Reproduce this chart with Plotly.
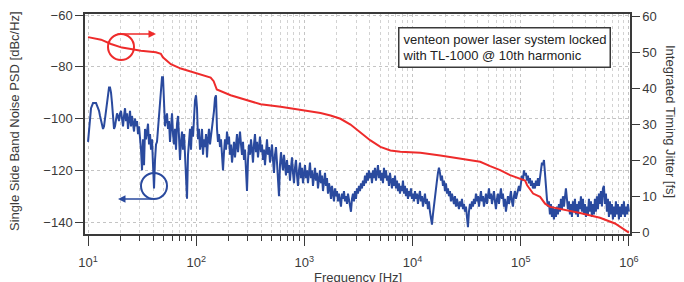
import numpy as np
import plotly.graph_objects as go

# ---------------- data ----------------
# Single side band phase noise PSD [dBc/Hz], measured on a uniform log grid 10 Hz .. 1 MHz
psd_10_100 = [
    -109, -104, -99, -96, -95, -94, -94, -94, -94, -95, -96, -97, -99, -101, -103, -104, -103, -100, -96, -92,
    -89, -88, -88, -90, -94, -100, -104, -103, -100, -98, -99, -101, -98, -97, -100, -103, -99, -96, -101, -98,
    -104, -100, -97, -103, -99, -102, -105, -100, -103, -101, -106, -103, -107, -112, -120, -108, -118, -104, -108, -105,
    -102, -110, -106, -112, -108, -118, -127, -116, -110, -109, -104, -98, -92, -86, -84, -84, -92, -103, -100, -98,
    -104, -101, -109, -103, -98, -106, -110, -104, -112, -102, -99, -107, -116, -109, -105, -112, -106, -114, -124, -131,
    -114, -108, -104, -112, -103, -107, -99, -93, -91,
]
psd_100_1k = [
    -96, -108, -104, -112, -110, -104, -114, -108, -111, -106, -115, -108, -104, -110, -107, -105, -102, -97, -92, -91,
    -104, -109, -106, -111, -108, -114, -120, -113, -108, -112, -105, -110, -107, -114, -110, -117, -112, -109, -115, -111,
    -106, -113, -108, -105, -110, -114, -109, -116, -112, -120, -128, -116, -110, -114, -108, -112, -117, -110, -106, -113,
    -109, -115, -111, -107, -113, -110, -116, -112, -118, -113, -108, -114, -111, -117, -113, -110, -116, -121, -114, -111,
    -117, -124, -130, -118, -113, -117, -120, -114, -118, -122, -116, -121, -118, -124, -119, -115, -121, -125, -119, -116,
    -122, -126, -120, -117, -123, -119, -125, -121,
]
psd_1k_10k = [
    -118, -123, -120, -125, -121, -117, -123, -120, -126, -122, -119, -124, -121, -127, -123, -120, -125, -122, -128, -124,
    -121, -126, -123, -129, -125, -127, -131, -126, -129, -132, -127, -130, -128, -132, -129, -131, -134, -129, -131, -128,
    -132, -130, -133, -129, -131, -134, -136, -131, -129, -132, -128, -131, -127, -129, -126, -128, -125, -127, -124, -126,
    -122, -125, -121, -124, -120, -123, -121, -125, -120, -123, -119, -124, -121, -118, -123, -120, -124, -121, -125, -119,
    -123, -120, -124, -122, -126, -121, -124, -127, -123, -126, -122, -127, -124, -128, -125, -129, -126, -128, -124, -129,
    -126, -130, -127, -131, -128, -130, -127, -131,
]
psd_10k_100k = [
    -129, -132, -128, -131, -129, -133, -130, -128, -132, -130, -134, -131, -129, -133, -131, -135, -132, -136, -139, -141,
    -137, -133, -130, -127, -124, -121, -119, -121, -124, -122, -126, -124, -128, -125, -129, -127, -130, -128, -132, -129,
    -131, -133, -130, -134, -131, -133, -135, -132, -134, -131, -135, -133, -136, -134, -139, -142, -136, -133, -135, -132,
    -134, -131, -133, -129, -132, -130, -134, -131, -128, -132, -130, -134, -131, -129, -133, -130, -127, -131, -129, -133,
    -130, -128, -132, -135, -131, -129, -133, -130, -127, -131, -129, -134, -131, -136, -132, -130, -133, -131, -128, -132,
    -134, -130, -128, -131, -129, -127, -126, -128,
]
psd_100k_1M = [
    -125, -122, -124, -120, -122, -121, -124, -122, -125, -123, -126, -124, -127, -125, -127, -124, -126, -123, -126, -122,
    -120, -117, -118, -116, -121, -127, -131, -134, -132, -137, -133, -138, -134, -139, -135, -138, -134, -137, -133, -136,
    -131, -135, -130, -134, -129, -127, -131, -135, -132, -137, -133, -138, -132, -136, -131, -137, -133, -138, -132, -135,
    -130, -136, -131, -137, -133, -138, -134, -137, -131, -136, -132, -138, -133, -137, -131, -136, -130, -135, -129, -133,
    -128, -134, -127, -126, -133, -129, -136, -131, -138, -132, -137, -133, -139, -134, -138, -132, -137, -133, -139, -134,
    -138, -133, -137, -132, -138, -134, -137, -133, -136,
]

# Integrated timing jitter [fs] (right axis)
jitter_freq_hz = [10, 13.2, 16.3, 20.6, 24.9, 30.8, 42.4, 47.1, 49.2, 58.3, 72.1, 89.1, 110, 136, 145, 155,
                  208, 319, 394, 603, 922, 1410, 1745, 2157, 2668, 3299, 4080, 5045, 6238, 7714,
                  11800, 18040, 27590, 42190, 52170, 64510, 79770, 98640, 109700, 114600, 130100,
                  151000, 167900, 186700, 231000, 353300, 540400, 743500, 1000000]
jitter_fs = [54.2, 53.5, 52.3, 51.3, 50.9, 50.4, 50.0, 49.6, 48.6, 46.7, 45.5, 44.6, 43.9, 43.0, 42.0, 39.7,
             38.1, 36.5, 35.6, 34.9, 34.1, 33.2, 32.5, 31.6, 30.0, 27.8, 25.6, 23.8, 22.8, 22.5,
             22.2, 21.4, 20.5, 19.7, 18.5, 17.4, 16.0, 15.1, 14.5, 13.2, 10.9,
             10.0, 8.1, 7.2, 6.7, 5.5, 4.2, 2.6, 0.1]

x_tick_vals = [1e1, 1e2, 1e3, 1e4, 1e5, 1e6]
x_tick_text = ["10<sup>1</sup>", "10<sup>2</sup>", "10<sup>3</sup>", "10<sup>4</sup>", "10<sup>5</sup>", "10<sup>6</sup>"]
left_ticks = [-140, -120, -100, -80, -60]
right_ticks = [0, 10, 20, 30, 40, 50, 60]
note_text = "venteon power laser system locked<br>with TL-1000 @ 10th harmonic"

# ---------------- figure ----------------
psd = psd_10_100 + psd_100_1k + psd_1k_10k + psd_10k_100k + psd_100k_1M
freq = np.logspace(1, 6, len(psd))

BLUE = "#2a4a9e"
RED = "#ee2b2b"
AXC = "#3a3a3a"
FONT = "Liberation Sans, Arial, sans-serif"

fig = go.Figure()
fig.add_trace(go.Scatter(x=freq, y=psd, mode="lines", line=dict(color=BLUE, width=2),
                         yaxis="y", showlegend=False))
fig.add_trace(go.Scatter(x=jitter_freq_hz, y=jitter_fs, mode="lines", line=dict(color=RED, width=2),
                         yaxis="y2", showlegend=False))

minor_vals = [m * 10 ** k for k in range(1, 6) for m in range(2, 10)]

fig.update_layout(
    width=684, height=282,
    margin=dict(l=85, r=54, t=14, b=48, autoexpand=False),
    paper_bgcolor="white", plot_bgcolor="white",
    font=dict(family=FONT, size=13, color=AXC),
    showlegend=False,
    xaxis=dict(
        type="log", range=[0.972, 6.01], automargin=False,
        tickmode="array", tickvals=x_tick_vals, ticktext=x_tick_text,
        ticks="outside", ticklen=10, tickwidth=1.3, tickcolor=AXC, ticklabelstandoff=6,
        showline=True, linecolor=AXC, linewidth=1.5, mirror=True,
        showgrid=True, gridcolor="#c4c4c4", griddash="dot", gridwidth=1,
        zeroline=False,
        minor=dict(tickmode="array", tickvals=minor_vals, ticks="outside", ticklen=5,
                   tickwidth=1.2, tickcolor=AXC, showgrid=True, gridcolor="#d2d2d2",
                   griddash="dot", gridwidth=1),
        tickfont=dict(size=13, color=AXC),
    ),
    yaxis=dict(
        range=[-144.6, -59.6], tickmode="array", tickvals=left_ticks, automargin=False,
        ticks="outside", ticklen=8, tickwidth=1.3, tickcolor=AXC,
        showline=True, linecolor=AXC, linewidth=1.5, mirror=True,
        showgrid=True, gridcolor="#c4c4c4", griddash="dot", gridwidth=1,
        zeroline=False, tickfont=dict(size=13, color=AXC),
    ),
    yaxis2=dict(
        overlaying="y", side="right", range=[-0.3, 60.6], automargin=False,
        tickmode="array", tickvals=right_ticks,
        ticks="outside", ticklen=8, tickwidth=1.3, tickcolor=AXC,
        showline=True, linecolor=AXC, linewidth=1.5,
        showgrid=False, zeroline=False, tickfont=dict(size=13, color=AXC),
    ),
)

# plot area: x 85..630 px, y 14..234 px
PW, PH = 545.0, 220.0

def px(xp):
    return (xp - 85) / PW

def py(yp):
    return (234 - yp) / PH

# axis titles
fig.add_annotation(text="Single Side Band Noise PSD [dBc/Hz]", xref="paper", yref="paper",
                   x=px(14), y=py(121), textangle=-90, showarrow=False,
                   font=dict(size=13, color=AXC), xanchor="center", yanchor="middle")
fig.add_annotation(text="Integrated Timing Jitter [fs]", xref="paper", yref="paper",
                   x=px(671), y=py(121), textangle=90, showarrow=False,
                   font=dict(size=13, color=AXC), xanchor="center", yanchor="middle")
fig.add_annotation(text="Frequency [Hz]", xref="paper", yref="paper",
                   x=px(358), y=py(277), showarrow=False,
                   font=dict(size=13, color=AXC), xanchor="center", yanchor="middle")

# note box
fig.add_annotation(text=note_text, xref="paper", yref="paper", x=px(398), y=py(27),
                   xanchor="left", yanchor="top", align="left", showarrow=False,
                   font=dict(size=13, color="#222"), bgcolor="white",
                   bordercolor=AXC, borderwidth=1.5, borderpad=3)

# circle markers with arrows pointing to the relevant axis
r = 13
for (cx, cy, col) in [(121, 47, RED), (154, 186, BLUE)]:
    fig.add_shape(type="circle", xref="paper", yref="paper",
                  x0=px(cx - r), x1=px(cx + r), y0=py(cy + r), y1=py(cy - r),
                  line=dict(color=col, width=2))
fig.add_annotation(xref="paper", yref="paper", x=px(156), y=py(34), ax=-40, ay=0,
                   text="", showarrow=True, arrowhead=2, arrowsize=1, arrowwidth=1.5, arrowcolor=RED)
fig.add_annotation(xref="paper", yref="paper", x=px(118), y=py(199), ax=36, ay=0,
                   text="", showarrow=True, arrowhead=2, arrowsize=1, arrowwidth=1.5, arrowcolor=BLUE)

fig.write_html("out.html", config={"displayModeBar": False},
               post_script="document.body.style.margin='0';document.body.style.overflow='hidden';")
